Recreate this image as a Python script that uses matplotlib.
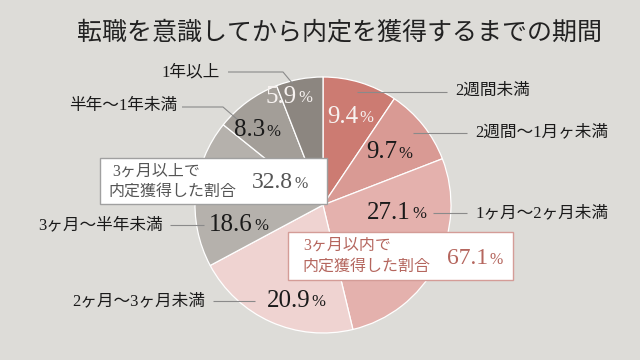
import matplotlib
matplotlib.use("Agg")
import matplotlib.pyplot as plt
from matplotlib.patches import Rectangle

# ---- data ----
title = "転職を意識してから内定を獲得するまでの期間"
categories = ["2週間未満", "2週間〜1月ヶ未満", "1ヶ月〜2ヶ月未満", "2ヶ月〜3ヶ月未満",
              "3ヶ月〜半年未満", "半年〜1年未満", "1年以上"]
values = [9.4, 9.7, 27.1, 20.9, 18.6, 8.3, 5.9]
colors = ["#cc7b72", "#d99a94", "#e4b1ad", "#efd3d1", "#b5b1ac", "#a39e98", "#8c8680"]
pct_colors = ["#f7f2f0", "#1a1a1a", "#1a1a1a", "#1a1a1a", "#1a1a1a", "#1a1a1a", "#f7f2f0"]
box_within_label = ["3ヶ月以内で", "内定獲得した割合"]
box_within_value = 67.1
box_over_label = ["3ヶ月以上で", "内定獲得した割合"]
box_over_value = 32.8

# ---- layout (pixel coordinates, y measured from top) ----
W, H = 640, 360
BG = "#dddcd8"
CX, CY, R = 323, 205, 128
# end of the number (x), y centre for each percentage label
pct_pos = [(358, 117), (397, 152), (411, 213), (310, 301), (253, 225), (265, 130), (297, 97)]
# category label positions: x, y, ha
lab_pos = [(455, 91, "left"), (475, 132, "left"), (475, 213, "left"), (205, 301, "right"),
           (163, 225, "right"), (177, 106, "right"), (220, 72, "right")]
leaders = [
    [(357, 92), (447, 92)],
    [(413, 133), (467, 133)],
    [(433, 213), (467, 213)],
    [(213, 301), (255, 301)],
    [(170, 225), (204, 225)],
    [(182, 107), (223, 107), (238, 120)],
    [(228, 72), (283, 72), (293, 84)],
]

JP = ["Liberation Serif", "Noto Sans CJK JP"]
NUM = ["Liberation Serif", "DejaVu Serif"]


def Y(y):
    return H - y


fig = plt.figure(figsize=(6.4, 3.6), dpi=100, facecolor=BG)
ax = fig.add_axes([0, 0, 1, 1])
ax.set_facecolor(BG)

ax.pie(values, colors=colors, startangle=90, counterclock=False,
       center=(CX, Y(CY)), radius=R,
       wedgeprops=dict(edgecolor="white", linewidth=0.9))
ax.set_xlim(0, W)
ax.set_ylim(0, H)
ax.set_aspect("equal")
ax.axis("off")

# title
ax.text(W / 2 + 20, Y(33), title, family=["Noto Sans CJK JP"], fontsize=18,
        color="#222222", ha="center", va="center")

# leaders
for pts in leaders:
    xs = [p[0] for p in pts]
    ys = [Y(p[1]) for p in pts]
    ax.plot(xs, ys, color="#8a8a8a", lw=0.8, solid_capstyle="butt")


def pct_text(x, y, val, color, size=18, psize=12):
    ax.text(x, Y(y), f"{val:.1f}", family=NUM, fontsize=size, color=color,
            ha="right", va="center")
    ax.text(x + 1.5, Y(y) - 1.5, "%", family=NUM, fontsize=psize, color=color,
            ha="left", va="center")


for v, (x, y), c in zip(values, pct_pos, pct_colors):
    pct_text(x, y, v, c)

for cat, (x, y, ha) in zip(categories, lab_pos):
    ax.text(x, Y(y), cat, family=JP, fontsize=12, color="#1a1a1a", ha=ha, va="center")

# boxes
ax.add_patch(Rectangle((100, Y(204)), 227, 46, facecolor="white", edgecolor="#a0a0a0", lw=1, zorder=5))
ax.text(112, Y(172), box_over_label[0], family=JP, fontsize=11.5, color="#555555",
        ha="left", va="center", zorder=6)
ax.text(108, Y(192), box_over_label[1], family=JP, fontsize=11.5, color="#555555",
        ha="left", va="center", zorder=6)
ax.text(293, Y(183), f"{box_over_value:.1f}", family=NUM, fontsize=17, color="#555555",
        ha="right", va="center", zorder=6)
ax.text(294.5, Y(183) - 1.5, "%", family=NUM, fontsize=11.5, color="#555555",
        ha="left", va="center", zorder=6)

RED = "#b5665e"
ax.add_patch(Rectangle((288, Y(280)), 225, 48, facecolor="white", edgecolor="#d49c97", lw=1, zorder=5))
ax.text(303, Y(246), box_within_label[0], family=JP, fontsize=11.5, color=RED,
        ha="left", va="center", zorder=6)
ax.text(302, Y(267), box_within_label[1], family=JP, fontsize=11.5, color=RED,
        ha="left", va="center", zorder=6)
ax.text(488, Y(258), f"{box_within_value:.1f}", family=NUM, fontsize=17, color=RED,
        ha="right", va="center", zorder=6)
ax.text(489.5, Y(258) - 1.5, "%", family=NUM, fontsize=11.5, color=RED,
        ha="left", va="center", zorder=6)

fig.savefig("out.png", dpi=100, facecolor=BG)
